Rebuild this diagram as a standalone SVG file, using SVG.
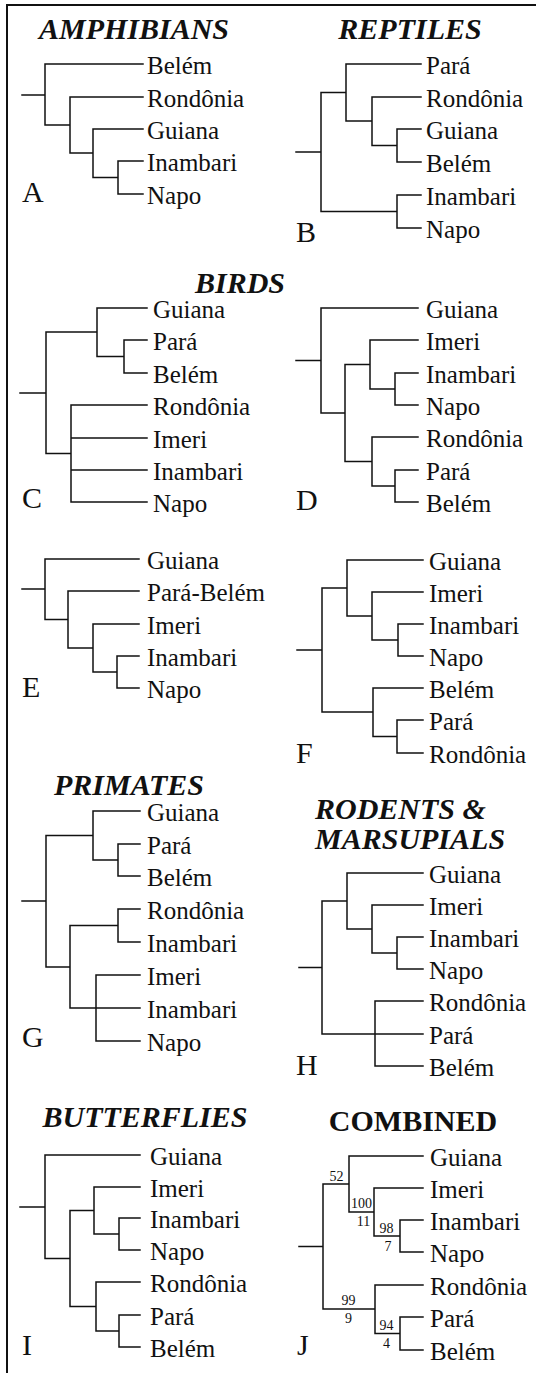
<svg xmlns="http://www.w3.org/2000/svg" width="536" height="1373" viewBox="0 0 536 1373" font-family="'Liberation Serif', 'Times New Roman', Times, 'DejaVu Serif', serif">
  <style>
    text { font-family: "Liberation Serif", "Times New Roman", Times, "DejaVu Serif", serif; fill: #111; }
    .frame { fill: none; stroke: #111; stroke-width: 2; }
    .tree { fill: none; stroke: #111; stroke-width: 1.5; stroke-linecap: square; }
    .leaf { font-size: 25px; }
    .title { font-size: 30px; font-weight: bold; font-style: italic; text-anchor: middle; }
    .title-up { font-size: 30px; font-weight: bold; text-anchor: middle; }
    .panel { font-size: 30px; }
    .support { font-size: 14px; text-anchor: middle; }
  </style>
  <rect width="536" height="1373" fill="#fff"/>
  <path class="frame" d="M7,1373 V5 H536"/>

  <!-- group headings -->
  <g id="headings">
    <text class="title" x="134" y="39">AMPHIBIANS</text>
    <text class="title" x="410" y="39">REPTILES</text>
    <text class="title" x="240" y="293">BIRDS</text>
    <text class="title" x="129" y="795">PRIMATES</text>
    <text class="title" x="315" y="819" style="text-anchor:start">RODENTS &amp;</text>
    <text class="title" x="315" y="849" style="text-anchor:start">MARSUPIALS</text>
    <text class="title" x="145" y="1127">BUTTERFLIES</text>
    <text class="title-up" x="413" y="1131">COMBINED</text>
  </g>

  <!-- branch lines of every cladogram -->
  <g id="connectors">
    <path id="edges-A" class="tree" d="M22,95 H45 M45,64 V125 M45,64 H143 M45,125 H70 M70,97 V153 M70,97 H143 M70,153 H93 M93,129 V177.5 M93,129 H143 M93,177.5 H118 M118,161 V194 M118,161 H143 M118,194 H143"/>
    <path id="edges-B" class="tree" d="M296,152 H321 M321,92.5 V211.5 M321,92.5 H346 M346,64 V121 M346,64 H421 M346,121 H372 M372,97 V145.5 M372,97 H421 M372,145.5 H397 M397,129 V162 M397,129 H421 M397,162 H421 M321,211.5 H397 M397,195 V228 M397,195 H421 M397,228 H421"/>
    <path id="edges-C" class="tree" d="M20,393 H46 M46,332 V453.5 M46,332 H97 M97,308 V356.5 M97,308 H147 M97,356.5 H124 M124,340 V373 M124,340 H147 M124,373 H147 M46,453.5 H71 M71,405 V502 M71,405 H147 M71,438 H147 M71,470 H147 M71,502 H147"/>
    <path id="edges-D" class="tree" d="M296,360.5 H321 M321,308 V413 M321,308 H418 M321,413 H345 M345,364.5 V461.5 M345,364.5 H370 M370,340 V389 M370,340 H418 M370,389 H395 M395,373 V405 M395,373 H418 M395,405 H418 M345,461.5 H372 M372,437 V486 M372,437 H418 M372,486 H395 M395,470 V502 M395,470 H418 M395,502 H418"/>
    <path id="edges-E" class="tree" d="M22,589 H45 M45,559 V619.5 M45,559 H139 M45,619.5 H68 M68,591 V648 M68,591 H139 M68,648 H93 M93,624 V672 M93,624 H139 M93,672 H117 M117,656 V688 M117,656 H139 M117,688 H139"/>
    <path id="edges-F" class="tree" d="M297,650 H322 M322,588 V712 M322,588 H347 M347,560 V616 M347,560 H423 M347,616 H372 M372,592 V640 M372,592 H423 M372,640 H398 M398,624 V656 M398,624 H423 M398,656 H423 M322,712 H373 M373,688 V736.5 M373,688 H423 M373,736.5 H397 M397,720 V753 M397,720 H423 M397,753 H423"/>
    <path id="edges-G" class="tree" d="M22,901 H46 M46,835.5 V967 M46,835.5 H93 M93,811 V860 M93,811 H140 M93,860 H118 M118,844 V876 M118,844 H140 M118,876 H140 M46,967 H70 M70,925.5 V1008 M70,925.5 H118 M118,909 V942 M118,909 H140 M118,942 H140 M70,1008 H140 M96,975 V1041 M96,975 H140 M96,1041 H140"/>
    <path id="edges-H" class="tree" d="M299,967.5 H322 M322,901 V1034 M322,901 H347 M347,873 V929 M347,873 H423 M347,929 H372 M372,905 V953 M372,905 H423 M372,953 H397 M397,937 V969 M397,937 H423 M397,969 H423 M322,1034 H423 M375,1001 V1066 M375,1001 H423 M375,1066 H423"/>
    <path id="edges-I" class="tree" d="M20,1207 H45 M45,1155 V1258.5 M45,1155 H140 M45,1258.5 H70 M70,1210.5 V1306.5 M70,1210.5 H94 M94,1187 V1234 M94,1187 H140 M94,1234 H119 M119,1218 V1250 M119,1218 H140 M119,1250 H140 M70,1306.5 H96 M96,1282 V1331 M96,1282 H140 M96,1331 H119 M119,1315 V1347 M119,1315 H140 M119,1347 H140"/>
    <path id="edges-J" class="tree" d="M299,1246.5 H323 M323,1184 V1309 M323,1184 H349 M349,1156 V1212 M349,1156 H423 M349,1212 H374 M374,1188 V1236 M374,1188 H423 M374,1236 H400 M400,1220 V1252 M400,1220 H423 M400,1252 H423 M323,1309 H375 M375,1285 V1333.5 M375,1285 H423 M375,1333.5 H400 M400,1317 V1350 M400,1317 H423 M400,1350 H423"/>
  </g>

  <!-- A: amphibians -->
  <g id="panel-A">
    <text class="panel" x="22" y="202">A</text>
    <text class="leaf" x="147" y="74">Belém</text>
    <text class="leaf" x="147" y="107">Rondônia</text>
    <text class="leaf" x="147" y="139">Guiana</text>
    <text class="leaf" x="147" y="171">Inambari</text>
    <text class="leaf" x="147" y="204">Napo</text>
  </g>

  <!-- B: reptiles -->
  <g id="panel-B">
    <text class="panel" x="296" y="242">B</text>
    <text class="leaf" x="426" y="74">Pará</text>
    <text class="leaf" x="426" y="107">Rondônia</text>
    <text class="leaf" x="426" y="139">Guiana</text>
    <text class="leaf" x="426" y="172">Belém</text>
    <text class="leaf" x="426" y="205">Inambari</text>
    <text class="leaf" x="426" y="238">Napo</text>
  </g>

  <!-- C: birds, tree 1 -->
  <g id="panel-C">
    <text class="panel" x="22" y="508">C</text>
    <text class="leaf" x="153" y="318">Guiana</text>
    <text class="leaf" x="153" y="350">Pará</text>
    <text class="leaf" x="153" y="383">Belém</text>
    <text class="leaf" x="153" y="415">Rondônia</text>
    <text class="leaf" x="153" y="448">Imeri</text>
    <text class="leaf" x="153" y="480">Inambari</text>
    <text class="leaf" x="153" y="512">Napo</text>
  </g>

  <!-- D: birds, tree 2 -->
  <g id="panel-D">
    <text class="panel" x="296" y="510">D</text>
    <text class="leaf" x="426" y="318">Guiana</text>
    <text class="leaf" x="426" y="350">Imeri</text>
    <text class="leaf" x="426" y="383">Inambari</text>
    <text class="leaf" x="426" y="415">Napo</text>
    <text class="leaf" x="426" y="447">Rondônia</text>
    <text class="leaf" x="426" y="480">Pará</text>
    <text class="leaf" x="426" y="512">Belém</text>
  </g>

  <!-- E: birds, tree 3 -->
  <g id="panel-E">
    <text class="panel" x="22" y="697">E</text>
    <text class="leaf" x="147" y="569">Guiana</text>
    <text class="leaf" x="147" y="601">Pará-Belém</text>
    <text class="leaf" x="147" y="634">Imeri</text>
    <text class="leaf" x="147" y="666">Inambari</text>
    <text class="leaf" x="147" y="698">Napo</text>
  </g>

  <!-- F: birds, tree 4 -->
  <g id="panel-F">
    <text class="panel" x="296" y="763">F</text>
    <text class="leaf" x="429" y="570">Guiana</text>
    <text class="leaf" x="429" y="602">Imeri</text>
    <text class="leaf" x="429" y="634">Inambari</text>
    <text class="leaf" x="429" y="666">Napo</text>
    <text class="leaf" x="429" y="698">Belém</text>
    <text class="leaf" x="429" y="730">Pará</text>
    <text class="leaf" x="429" y="763">Rondônia</text>
  </g>

  <!-- G: primates -->
  <g id="panel-G">
    <text class="panel" x="22" y="1047">G</text>
    <text class="leaf" x="147" y="821">Guiana</text>
    <text class="leaf" x="147" y="854">Pará</text>
    <text class="leaf" x="147" y="886">Belém</text>
    <text class="leaf" x="147" y="919">Rondônia</text>
    <text class="leaf" x="147" y="952">Inambari</text>
    <text class="leaf" x="147" y="985">Imeri</text>
    <text class="leaf" x="147" y="1018">Inambari</text>
    <text class="leaf" x="147" y="1051">Napo</text>
  </g>

  <!-- H: rodents and marsupials -->
  <g id="panel-H">
    <text class="panel" x="296" y="1075">H</text>
    <text class="leaf" x="429" y="883">Guiana</text>
    <text class="leaf" x="429" y="915">Imeri</text>
    <text class="leaf" x="429" y="947">Inambari</text>
    <text class="leaf" x="429" y="979">Napo</text>
    <text class="leaf" x="429" y="1011">Rondônia</text>
    <text class="leaf" x="429" y="1044">Pará</text>
    <text class="leaf" x="429" y="1076">Belém</text>
  </g>

  <!-- I: butterflies -->
  <g id="panel-I">
    <text class="panel" x="22" y="1355">I</text>
    <text class="leaf" x="150" y="1165">Guiana</text>
    <text class="leaf" x="150" y="1197">Imeri</text>
    <text class="leaf" x="150" y="1228">Inambari</text>
    <text class="leaf" x="150" y="1260">Napo</text>
    <text class="leaf" x="150" y="1292">Rondônia</text>
    <text class="leaf" x="150" y="1325">Pará</text>
    <text class="leaf" x="150" y="1357">Belém</text>
  </g>

  <!-- J: combined, with support values -->
  <g id="panel-J">
    <text class="panel" x="297" y="1355">J</text>
    <text class="leaf" x="430" y="1166">Guiana</text>
    <text class="leaf" x="430" y="1198">Imeri</text>
    <text class="leaf" x="430" y="1230">Inambari</text>
    <text class="leaf" x="430" y="1262">Napo</text>
    <text class="leaf" x="430" y="1295">Rondônia</text>
    <text class="leaf" x="430" y="1327">Pará</text>
    <text class="leaf" x="430" y="1360">Belém</text>
    <text class="support" x="336.5" y="1181">52</text>
    <text class="support" x="361.5" y="1208">100</text>
    <text class="support" x="363.5" y="1226">11</text>
    <text class="support" x="386.5" y="1233">98</text>
    <text class="support" x="388" y="1251">7</text>
    <text class="support" x="348.5" y="1305">99</text>
    <text class="support" x="348.5" y="1323">9</text>
    <text class="support" x="386.5" y="1330">94</text>
    <text class="support" x="386.5" y="1348">4</text>
  </g>
</svg>
